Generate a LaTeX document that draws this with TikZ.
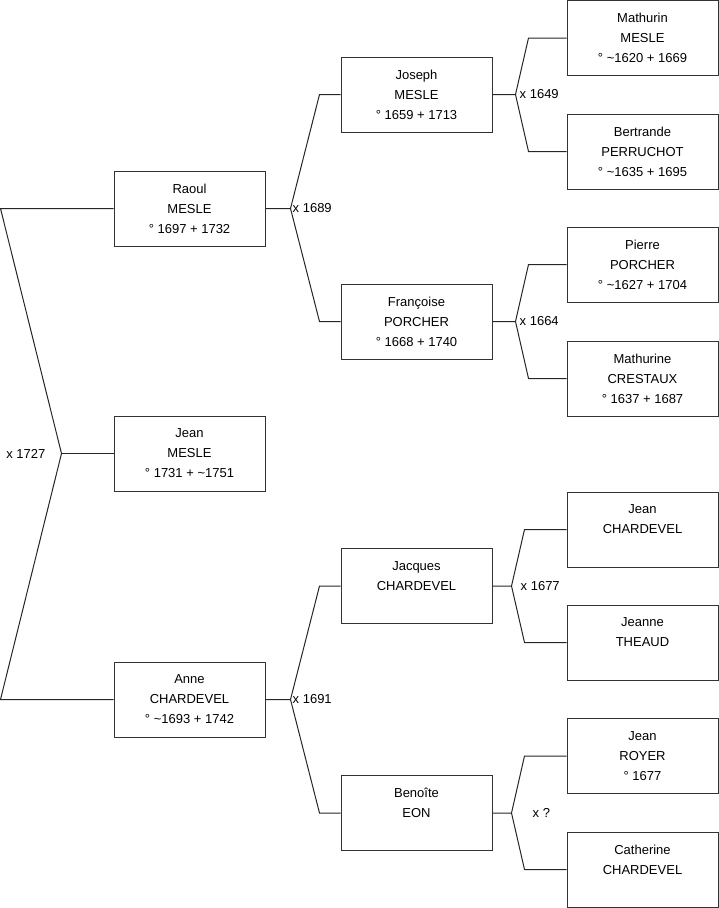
\documentclass[tikz,border=0pt]{standalone}
\usepackage{fontspec}
\setmainfont{Liberation Sans}
\usetikzlibrary{calc}
\tikzset{
  person/.style={draw=black!80, line width=1pt, minimum width=151pt, minimum height=75pt,
                 inner sep=0pt, align=center, font=\fontsize{13}{20}\selectfont},
  link/.style={line width=1pt, black!85},
  wed/.style={font=\fontsize{13}{16}\selectfont, inner sep=2pt}
}

\begin{document}
\begin{tikzpicture}[x=1pt, y=-1pt]
        \useasboundingbox (0,0) rectangle (719,908);
        % generation 1
        \node[person] (raoul) at (189.5,208.5) {Raoul\\MESLE\\° 1697 + 1732};
        \node[person] (jean) at (189.5,453.5) {Jean\\MESLE\\° 1731 + \textasciitilde1751};
        \node[person] (anne) at (189.5,699.5) {Anne\\CHARDEVEL\\° \textasciitilde1693 + 1742};
        % generation 2
        \node[person] (joseph) at (416.5,94.5) {Joseph\\MESLE\\° 1659 + 1713};
        \node[person] (francoise) at (416.5,321.5) {Françoise\\PORCHER\\° 1668 + 1740};
        \node[person] (jacques) at (416.5,586) {Jacques\\CHARDEVEL\\\mbox{}};
        \node[person] (benoite) at (416.5,813) {Benoîte\\EON\\\mbox{}};
        % generation 3
        \node[person] (mathurin) at (642.5,38) {Mathurin\\MESLE\\° \textasciitilde1620 + 1669};
        \node[person] (bertrande) at (642.5,151.5) {Bertrande\\PERRUCHOT\\° \textasciitilde1635 + 1695};
        \node[person] (pierre) at (642.5,264.5) {Pierre\\PORCHER\\° \textasciitilde1627 + 1704};
        \node[person] (mathurine) at (642.5,378.5) {Mathurine\\CRESTAUX\\° 1637 + 1687};
        \node[person] (jeanc) at (642.5,529.5) {Jean\\CHARDEVEL\\\mbox{}};
        \node[person] (jeanne) at (642.5,642.5) {Jeanne\\THEAUD\\\mbox{}};
        \node[person] (jeanr) at (642.5,756) {Jean\\ROYER\\° 1677};
        \node[person] (catherine) at (642.5,869.5) {Catherine\\CHARDEVEL\\\mbox{}};

        % Raoul x Anne
        \coordinate (c1727) at ([xshift=-52pt]jean.west);
        \draw[link] (raoul.west) -- ([xshift=-113pt]raoul.west) -- (c1727) -- ([xshift=-113pt]anne.west) -- (anne.west);
        \draw[link] (c1727) -- (jean.west);
        \node[wed, anchor=east] (w1727) at ([xshift=-14pt]c1727) {x 1727};

        % parents of Raoul
        \coordinate (c1689) at ([xshift=25pt]raoul.east);
        \draw[link] (raoul.east) -- (c1689) -- ([xshift=-21pt]joseph.west) -- (joseph.west);
        \draw[link] (c1689) -- ([xshift=-21pt]francoise.west) -- (francoise.west);
        \node[wed, anchor=west] (w1689) at (c1689) {x 1689};

        % parents of Anne
        \coordinate (c1691) at ([xshift=25pt]anne.east);
        \draw[link] (anne.east) -- (c1691) -- ([xshift=-21pt]jacques.west) -- (jacques.west);
        \draw[link] (c1691) -- ([xshift=-21pt]benoite.west) -- (benoite.west);
        \node[wed, anchor=west] (w1691) at (c1691) {x 1691};

        % parents of Joseph
        \coordinate (c1649) at ([xshift=23pt]joseph.east);
        \draw[link] (joseph.east) -- (c1649) -- ([xshift=-38pt]mathurin.west) -- (mathurin.west);
        \draw[link] (c1649) -- ([xshift=-38pt]bertrande.west) -- (bertrande.west);
        \node[wed, anchor=west] (w1649) at ([xshift=2pt]c1649) {x 1649};

        % parents of Françoise
        \coordinate (c1664) at ([xshift=23pt]francoise.east);
        \draw[link] (francoise.east) -- (c1664) -- ([xshift=-38pt]pierre.west) -- (pierre.west);
        \draw[link] (c1664) -- ([xshift=-38pt]mathurine.west) -- (mathurine.west);
        \node[wed, anchor=west] (w1664) at ([xshift=2pt]c1664) {x 1664};

        % parents of Jacques
        \coordinate (c1677) at ([xshift=19pt]jacques.east);
        \draw[link] (jacques.east) -- (c1677) -- ([xshift=-42pt]jeanc.west) -- (jeanc.west);
        \draw[link] (c1677) -- ([xshift=-42pt]jeanne.west) -- (jeanne.west);
        \node[wed, anchor=west] (w1677) at ([xshift=7pt]c1677) {x 1677};

        % parents of Benoîte
        \coordinate (cunk) at ([xshift=19pt]benoite.east);
        \draw[link] (benoite.east) -- (cunk) -- ([xshift=-42pt]jeanr.west) -- (jeanr.west);
        \draw[link] (cunk) -- ([xshift=-42pt]catherine.west) -- (catherine.west);
        \node[wed, anchor=west] (wunk) at ([xshift=19pt]cunk) {x ?};
\end{tikzpicture}
\end{document}
